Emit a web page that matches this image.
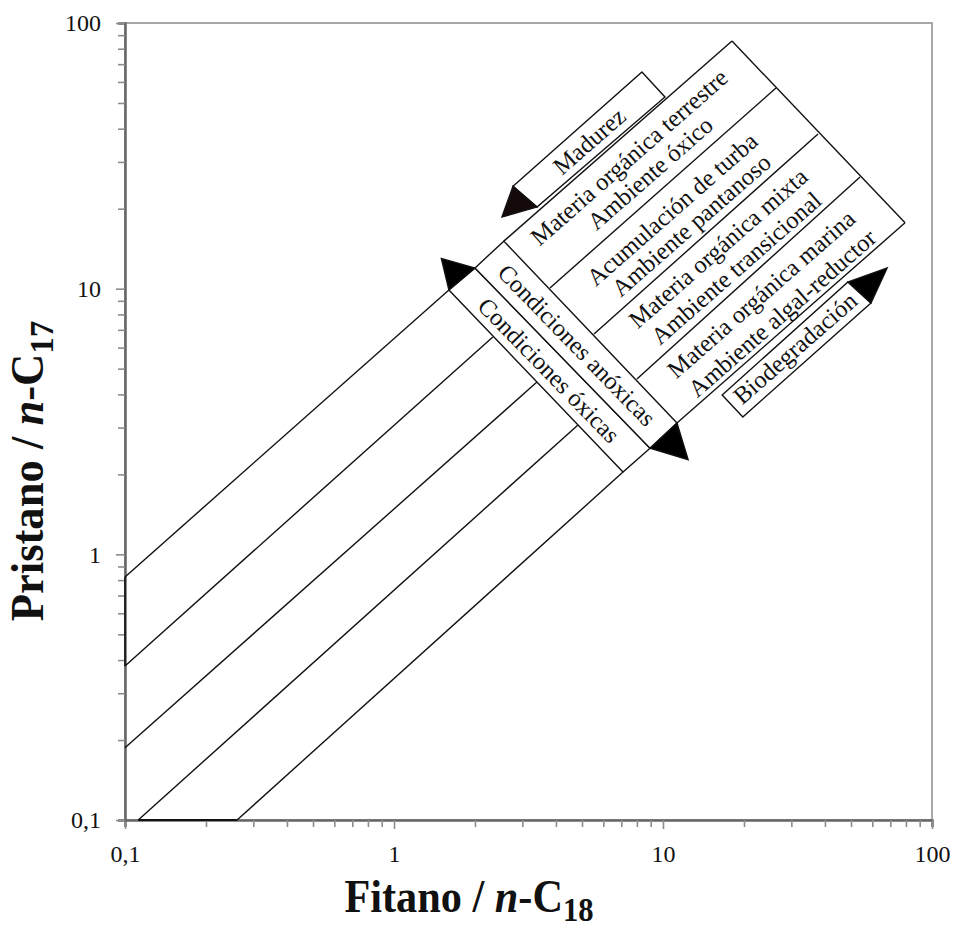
<!DOCTYPE html>
<html>
<head>
<meta charset="utf-8">
<script src="https://cdn.jsdelivr.net/npm/d3@7"></script>
<style>
  body { margin: 0; background: #fff; }
  text { font-family: 'Liberation Serif', 'Times New Roman', serif; fill: #111; }
</style>
</head>
<body>
<div id="chart"></div>
<script>
// axis ticks
const majorTicks = [0.1, 1, 10, 100];
const tickLabels = ['0,1', '1', '10', '100'];

// Pr/n-C17 = f(Ph/n-C18) boundary lines
// each line is cut by the "Condiciones" band, so it has a lower piece and an upper piece
const lineStarts = [[0.1, 0.822], [0.1, 0.38], [0.1, 0.187], [0.112, 0.1], [0.261, 0.1]];
const lineEnds = [[1.6, 9.89], [2.33, 6.58], [3.4, 4.45], [4.83, 3.07], [7.1, 2.04]];
const upperStarts = [[2.56, 15.1], [3.8, 10.06], [5.54, 6.75], [8.0, 4.57], [11.27, 3.12]];
const upperEnds = [[18.05, 85.5], [26.3, 56.9], [37.7, 38.2], [54.0, 26.3], [79.4, 17.7]];

// boxes and arrow heads (corners in data units)
const oxicBand = [[1.6, 9.89], [2.0, 11.96], [8.95, 2.51], [7.1, 2.04]];
const anoxicBand = [[2.0, 11.96], [2.56, 15.1], [11.27, 3.12], [8.95, 2.51]];
const oxicArrow = [[1.6, 9.89], [2.0, 11.96], [1.5, 13.0]];
const anoxicArrow = [[8.95, 2.51], [11.27, 3.12], [12.4, 2.27]];
const maturityBox = [[2.77, 24.3], [8.35, 65.4], [10.17, 52.7], [3.4, 20.3]];
const maturityArrow = [[2.77, 24.3], [3.4, 20.3], [2.52, 18.6]];
const biodegBox = [[16.6, 3.98], [48.7, 10.6], [59.3, 8.83], [19.8, 3.29]];
const biodegArrow = [[48.7, 10.6], [59.3, 8.83], [68.1, 11.96]];

// labels along the lines
const zoneLabels = [
  'Materia orgánica terrestre', 'Ambiente óxico',
  'Acumulación de turba', 'Ambiente pantanoso',
  'Materia orgánica mixta', 'Ambiente transicional',
  'Materia orgánica marina', 'Ambiente algal-reductor',
  'Madurez', 'Biodegradación'
];
const zoneAnchors = [
  [7.47, 31.3], [8.95, 27.25],
  [10.8, 19.94], [12.71, 17.36],
  [16.01, 14.23], [18.68, 11.96],
  [23.14, 9.55], [27.7, 8.1],
  [5.31, 35.95], [30.95, 5.98]
];
// labels across the lines
const bandLabels = ['Condiciones anóxicas', 'Condiciones óxicas'];
const bandAnchors = [[4.79, 6.14], [3.77, 4.94]];

const width = 958;
const height = 929;
const margin = { top: 23, right: 26, bottom: 109, left: 125 };

const svg = d3
  .select('#chart')
  .append('svg')
  .attr('width', width)
  .attr('height', height);

const x = d3
  .scaleLog()
  .domain([0.1, 100])
  .range([margin.left, width - margin.right]);

const y = d3
  .scaleLog()
  .domain([0.1, 100])
  .range([height - margin.bottom, margin.top]);

const isMajor = (d) => majorTicks.some((m) => Math.abs(m - d) < 1e-9);
const label = (d) => tickLabels[majorTicks.findIndex((m) => Math.abs(m - d) < 1e-9)];

// frame
svg
  .append('rect')
  .attr('x', x(0.1))
  .attr('y', y(100))
  .attr('width', x(100) - x(0.1))
  .attr('height', y(0.1) - y(100))
  .attr('fill', 'none')
  .attr('stroke', '#8c8c8c')
  .attr('stroke-width', 1.5);

const xAxis = d3
  .axisBottom(x)
  .tickValues(x.ticks())
  .tickFormat((d) => (isMajor(d) ? label(d) : ''))
  .tickSizeOuter(0)
  .tickSize(7)
  .tickPadding(18);

const yAxis = d3
  .axisLeft(y)
  .tickValues(y.ticks())
  .tickFormat((d) => (isMajor(d) ? label(d) : ''))
  .tickSizeOuter(0)
  .tickSize(7)
  .tickPadding(17);

const gx = svg
  .append('g')
  .attr('transform', `translate(0,${y(0.1)})`)
  .call(xAxis);

const gy = svg
  .append('g')
  .attr('transform', `translate(${x(0.1)},0)`)
  .call(yAxis);

[gx, gy].forEach((g) => {
  g.select('.domain').attr('stroke', '#666').attr('stroke-width', 2.5);
  g.selectAll('.tick line').attr('stroke', '#8c8c8c').attr('stroke-width', 1.6);
  g.selectAll('.tick text')
    .attr('fill', '#222')
    .style('font-size', '24px')
    .style('font-family', "'Liberation Serif', serif");
});
gx.selectAll('.tick line').filter((d) => isMajor(d)).attr('y2', 9);
gy.selectAll('.tick line').filter((d) => isMajor(d)).attr('x2', -9);

// the zone edges that lie on the axes
const line = d3
  .line()
  .x((d) => x(d[0]))
  .y((d) => y(d[1]));

svg
  .append('path')
  .attr('d', line([lineStarts[0], lineStarts[1]]))
  .attr('stroke', '#111')
  .attr('stroke-width', 1.6);
svg
  .append('path')
  .attr('d', line([lineStarts[3], lineStarts[4]]))
  .attr('stroke', '#111')
  .attr('stroke-width', 1.8);

// boundary lines
lineStarts.forEach((s, i) => {
  svg
    .append('path')
    .attr('d', line([s, lineEnds[i]]))
    .attr('fill', 'none')
    .attr('stroke', '#111')
    .attr('stroke-width', 1.4);
  svg
    .append('path')
    .attr('d', line([upperStarts[i], upperEnds[i]]))
    .attr('fill', 'none')
    .attr('stroke', '#111')
    .attr('stroke-width', 1.4);
});

// far edge of the environment zones
svg
  .append('path')
  .attr('d', line([upperEnds[0], upperEnds[4]]))
  .attr('fill', 'none')
  .attr('stroke', '#111')
  .attr('stroke-width', 1.4);

const polygon = (pts, fill) =>
  svg
    .append('path')
    .attr('d', line(pts) + 'Z')
    .attr('fill', fill)
    .attr('stroke', '#111')
    .attr('stroke-width', 1.4)
    .attr('stroke-linejoin', 'miter');

polygon(oxicBand, '#fff');
polygon(anoxicBand, '#fff');
polygon(maturityBox, '#fff');
polygon(biodegBox, '#fff');
polygon(oxicArrow, '#000');
polygon(anoxicArrow, '#000');
polygon(maturityArrow, '#140a0a');
polygon(biodegArrow, '#000');

const angleOf = (a, b) =>
  (Math.atan2(y(b[1]) - y(a[1]), x(b[0]) - x(a[0])) * 180) / Math.PI;

const alongAngle = angleOf(upperStarts[0], upperEnds[0]);
const acrossAngle = angleOf(oxicBand[1], oxicBand[2]);

zoneLabels.forEach((t, i) => {
  const p = zoneAnchors[i];
  svg
    .append('text')
    .attr('transform', `translate(${x(p[0])},${y(p[1])}) rotate(${alongAngle})`)
    .attr('text-anchor', 'middle')
    .attr('dominant-baseline', 'central')
    .style('font-size', '24.5px')
    .text(t);
});

bandLabels.forEach((t, i) => {
  const p = bandAnchors[i];
  svg
    .append('text')
    .attr('transform', `translate(${x(p[0])},${y(p[1])}) rotate(${acrossAngle})`)
    .attr('text-anchor', 'middle')
    .attr('dominant-baseline', 'central')
    .style('font-size', '24.5px')
    .text(t);
});

// axis titles
const xTitle = svg
  .append('text')
  .attr('transform', 'translate(469,912) scale(0.9,1)')
  .attr('text-anchor', 'middle')
  .style('font-weight', 'bold')
  .style('font-size', '47px');
xTitle.append('tspan').text('Fitano / ');
xTitle.append('tspan').style('font-style', 'italic').text('n');
xTitle.append('tspan').text('-C');
xTitle.append('tspan').attr('dy', 9).style('font-size', '34px').text('18');

const yTitle = svg
  .append('text')
  .attr('transform', 'translate(43,471) rotate(-90) scale(0.97,1)')
  .attr('text-anchor', 'middle')
  .style('font-weight', 'bold')
  .style('font-size', '46px');
yTitle.append('tspan').text('Pristano / ');
yTitle.append('tspan').style('font-style', 'italic').text('n');
yTitle.append('tspan').text('-C');
yTitle.append('tspan').attr('dy', 10).style('font-size', '34px').text('17');
</script>
</body>
</html>
